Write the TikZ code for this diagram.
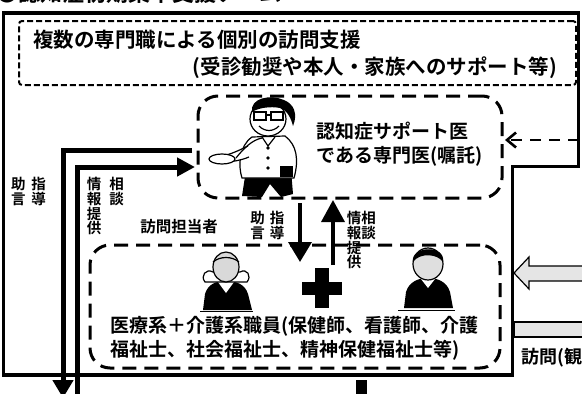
\documentclass[tikz,border=0pt]{standalone}
\usepackage{fontspec}
\setmainfont{Noto Sans CJK JP}[BoldFont=* Bold]
\usetikzlibrary{arrows.meta}

\tikzset{
  frame/.style={line width=3.2pt},
  flow/.style={line width=5pt},
  vflow/.style={line width=3.6pt},
  tbox/.style={draw, line width=2pt, dash pattern=on 6pt off 3pt, rounded corners=3pt, outer sep=0pt, inner sep=0pt},
  dbox/.style={draw, line width=3pt, dash pattern=on 14pt off 8pt, rounded corners=20pt, outer sep=0pt, inner sep=0pt},
  darr/.style={line width=2.6pt, dash pattern=on 11pt off 8pt},
  big/.style={font=\bfseries\fontsize{20.5}{24}\selectfont, inner sep=0pt},
  mid/.style={font=\bfseries\fontsize{19}{24}\selectfont, inner sep=0pt, align=left},
  small/.style={font=\bfseries\fontsize{15.5}{18}\selectfont, inner sep=0pt},
  vlbl/.style={font=\bfseries\fontsize{14.5}{14.8}\selectfont, inner sep=0pt, align=center, anchor=north},
  stipple/.style={draw, line width=1.2pt, fill=gray!20},
  ink/.style={line width=1.2pt},
}

\begin{document}
\begin{tikzpicture}[x=1pt,y=-1pt]
\useasboundingbox (0,0) rectangle (582,394);
\clip (0,0) rectangle (582,394);

% heading, running off the top edge
\node[font=\bfseries\fontsize{22}{24}\selectfont, inner sep=0pt, anchor=south west] (title) at (-4,4) {●認知症初期集中支援チーム};

% outer frame with its stepped right side
\draw[frame] (3.5,13) -- (578.5,13) -- (578.5,166.5) -- (512.5,166.5) -- (512.5,375) -- (3.5,375) -- cycle;

% dashed boxes
\node[tbox, minimum width=557pt, minimum height=64pt] (top) at (297.5,53) {};
\node[dbox, minimum width=304pt, minimum height=102pt] (doc) at (350,147) {};
\node[dbox, minimum width=410pt, minimum height=123pt] (staff) at (295,306.5) {};

% texts of the top box
\node[big, anchor=west] (t1) at (33,40) {複数の専門職による個別の訪問支援};
\node[big, anchor=east] (t2) at (557,68) {(受診勧奨や本人・家族へのサポート等)};

% doctor caption
\node[mid, anchor=north west] (dtxt) at (316,122) {認知症サポート医\\である専門医(嘱託)};

% staff caption
\node[mid, anchor=north west] (stxt) at (110,316) {医療系＋介護系職員(保健師、看護師、介護\\福祉士、社会福祉士、精神保健福祉士等)};

% flows on the left
\draw[flow, -{Triangle[length=18pt,width=20pt]}] ([shift={(-6pt,-3pt)}]doc.west) -| (63,398);
\draw[flow, -{Triangle[length=18pt,width=18pt]}] (77,400) |- ([shift={(-3pt,-20pt)}]doc.west);

% flows between the doctor and the staff
\draw[vflow, -{Triangle[length=20pt,width=23pt]}] ([shift={(-50pt,-5pt)}]doc.south) -- ([shift={(5pt,-17pt)}]staff.north);
\draw[vflow, -{Triangle[length=22pt,width=23pt]}] ([shift={(38pt,-20pt)}]staff.north) -- ([shift={(-17pt,-2pt)}]doc.south);

% dashed request arrow from the right
\coordinate (rq) at (578.5,140);
\draw[darr, -{Straight Barb[length=9pt,width=15pt]}] (rq) -- ([shift={(3pt,7pt)}]doc.east);

% labels
\node[vlbl] (l1) at (38.5,177) {指\\導};
\node[vlbl] (l2) at (18.5,177) {助\\言};
\node[vlbl] (l3) at (116.5,177) {相\\談};
\node[vlbl] (l4) at (94,177) {情\\報\\提\\供};
\node[vlbl] (l5) at (277,211) {指\\導};
\node[vlbl] (l6) at (257.5,211) {助\\言};
\node[vlbl] (l7) at (368.5,211) {相\\談};
\node[vlbl] (l8) at (354,211) {情\\報\\提\\供};
\node[small] (visit) at (179,227) {訪問担当者};

% cross between the two staff members
\fill (315,268) rectangle (329,308);
\fill (302,281.5) rectangle (342,295);

% doctor figure
\fill (246,170) -- (291,170) -- (293,194) -- (281,197) -- (270,184) -- (262,197) -- (242,196) -- cycle;
\draw[ink, fill=white] (252,137) .. controls (239,146) and (238,166) .. (242,178) -- (294,178) .. controls (299,160) and (297,145) .. (285,136) -- cycle;
\fill (268,148) circle (1.8) (268,158) circle (1.8) (268,168) circle (1.8);
\draw[ink] (262,137) -- (268,146) -- (275,137);
\draw[ink, fill=white] (248,146) .. controls (236,152) and (228,155) .. (222,156) -- (224,162) .. controls (232,162) and (242,160) .. (249,157);
\draw[ink, fill=white] (222,159) ellipse (13 and 5);
\draw[ink] (262,138) .. controls (252,140) and (244,148) .. (236,158);
\fill (280,166) rectangle (293,177);
\draw[ink, fill=white] (268,119) ellipse (18 and 17);
\fill (252,112) .. controls (250,98) and (270,94) .. (284,100) .. controls (294,104) and (298,114) .. (293,126) .. controls (291,118) and (287,110) .. (280,108) .. controls (270,106) and (258,108) .. (252,112) -- cycle;
\draw[ink] (254,112) rectangle (266,120) (271,112) rectangle (283,120) (266,115) -- (271,115);
\draw[ink] (259,126) .. controls (265,132) and (273,132) .. (279,126);

% left staff member
\fill (203,310) -- (205,294) .. controls (208,284) and (216,281) .. (226,281) .. controls (236,281) and (245,284) .. (248,294) -- (252,310) -- cycle;
\fill[white] (218,282) -- (226,293) -- (234,282) -- cycle;
\draw[ink, fill=white] (205,282) .. controls (200,276) and (206,268) .. (213,272) -- (240,272) .. controls (247,268) and (252,276) .. (247,282) -- cycle;
\draw[ink, fill=gray!30] (226,267) ellipse (13 and 15);
\draw[ink] (213,262) .. controls (220,256) and (232,256) .. (239,262);
\draw[line width=1pt] (200,311) -- (253,311);

% right staff member
\fill (404,308) -- (406,292) .. controls (409,282) and (418,278) .. (428,278) .. controls (438,278) and (447,282) .. (450,292) -- (453,308) -- cycle;
\fill[white] (421,279) -- (428,288) -- (435,279) -- cycle;
\draw[ink, fill=gray!25] (428,264) ellipse (15 and 16);
\fill (413,262) .. controls (410,246) and (446,244) .. (443,262) .. controls (438,254) and (420,252) .. (413,262) -- cycle;
\draw[line width=1pt] (398,310) -- (455,310);

% inflow from the right
\draw[stipple] (514,273) -- (529,257) -- (529,266) -- (590,266) -- (590,281) -- (529,281) -- (529,289) -- cycle;
\draw[stipple] (514,322) rectangle (590,337);
\node[small, font=\bfseries\fontsize{18}{20}\selectfont, anchor=west] (visit2) at (521,358) {訪問(観察・評価)};

% stem continuing below
\fill (356,380) rectangle (367,396);
\end{tikzpicture}
\end{document}
